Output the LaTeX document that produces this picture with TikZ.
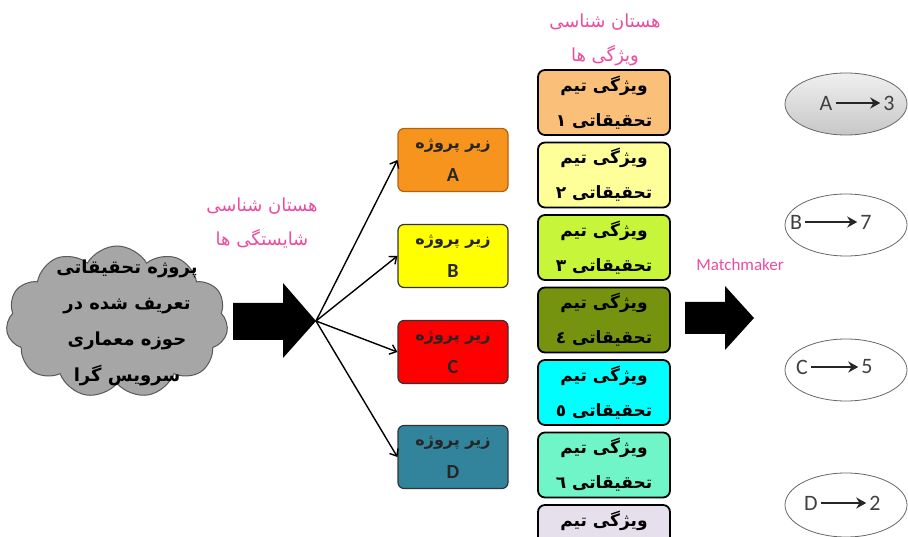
\documentclass[tikz,border=0pt]{standalone}
\usepackage{fontspec}
\setmainfont{DejaVu Sans}
\newfontfamily\fa[Script=Arabic]{DejaVu Sans}
\newfontfamily\calfont{Carlito}
\TeXXeTstate=1
\usetikzlibrary{shapes.symbols,shapes.geometric,arrows.meta}
\newcommand{\myrl}[1]{\beginR#1\endR}
\newcommand{\lat}[1]{{\calfont\bfseries\fontsize{20}{22}\selectfont #1}}
\definecolor{pinkt}{HTML}{EC4C9E}
\definecolor{cloudgray}{HTML}{A6A6A6}
\definecolor{cloudedge}{HTML}{595959}
\definecolor{subA}{HTML}{F7941D}
\definecolor{subAedge}{HTML}{B0640E}
\definecolor{subB}{HTML}{FFFF00}
\definecolor{subC}{HTML}{FF0000}
\definecolor{subD}{HTML}{31849B}
\definecolor{f1}{HTML}{FAC07A}
\definecolor{f2}{HTML}{FFFF99}
\definecolor{f3}{HTML}{C6F53A}
\definecolor{f4}{HTML}{76930F}
\definecolor{f5}{HTML}{00FFFF}
\definecolor{f6}{HTML}{6FF5C8}
\definecolor{f7}{HTML}{E6E0EC}
\definecolor{elltext}{HTML}{404040}
\tikzset{
  subbox/.style={draw=black!80, line width=1.2pt, rounded corners=6pt,
    minimum width=110pt, minimum height=63pt, align=center, inner sep=0pt,
    font=\fa\bfseries\fontsize{16}{33}\selectfont, text=black!85},
  featbox/.style={draw=black, line width=1.8pt, rounded corners=7pt,
    minimum width=132pt, minimum height=65pt, align=center, inner sep=0pt,
    font=\fa\bfseries\fontsize{17}{35}\selectfont},
  pinklabel/.style={text=pinkt, align=center, font=\fa\fontsize{18}{34}\selectfont},
  thinarrow/.style={-{Straight Barb[length=6pt,width=10pt]}, line width=1.4pt, black},
  bigarrow/.style={fill=black},
  ell/.style={ellipse, draw=black!60, line width=0.8pt, minimum width=122pt, minimum height=62pt},
  eltxt/.style={text=elltext, font=\calfont\fontsize{22}{24}\selectfont, inner sep=3pt},
  earrow/.style={-{Stealth[length=10pt,width=11pt]}, line width=2.6pt, black!85},
}
\begin{document}
\begin{tikzpicture}[x=1pt,y=-1pt]
\useasboundingbox (0,0) rectangle (908,537);
\clip (0,0) rectangle (908,537);

% cloud
\node[cloud, cloud puffs=11, cloud puff arc=120, aspect=1.4, minimum width=222pt, minimum height=152pt,
  fill=cloudgray, draw=cloudedge, line width=1pt] (cloud) at (117,322) {};
\node[align=center, font=\fa\bfseries\fontsize{18}{36}\selectfont] (cloudtxt) at (127,323)
  {\myrl{پروژه تحقیقاتی}\\\myrl{تعریف شده در}\\\myrl{حوزه معماری}\\\myrl{سرویس گرا}};

% big arrow 1
\fill[bigarrow] (233,303) -- (283,303) -- (283,283) -- (316,321) -- (283,358) -- (283,340) -- (233,340) -- cycle;
\coordinate (hub) at (316,321);

% pink label 1
\node[pinklabel] (lab1) at (262,223) {\myrl{هستان شناسی}\\\myrl{شایستگی ها}};

% sub-project boxes
\node[subbox, fill=subA, draw=subAedge] (A) at (453,160) {\myrl{زیر پروژه}\\\lat{A}};
\node[subbox, fill=subB] (B) at (453,256) {\myrl{زیر پروژه}\\\lat{B}};
\node[subbox, fill=subC] (C) at (453,352) {\myrl{زیر پروژه}\\\lat{C}};
\node[subbox, fill=subD] (D) at (453,457) {\myrl{زیر پروژه}\\\lat{D}};

\draw[thinarrow] (hub) -- (A.west);
\draw[thinarrow] (hub) -- (B.west);
\draw[thinarrow] (hub) -- (C.west);
\draw[thinarrow] (hub) -- (D.west);

% pink label 2
\node[pinklabel] (lab2) at (605,40) {\myrl{هستان شناسی}\\\myrl{ویژگی ها}};

% feature boxes
\node[featbox, fill=f1] (F1) at (604,102.5) {\myrl{ویژگی تیم}\\\myrl{تحقیقاتی ١}};
\node[featbox, fill=f2] (F2) at (604,175) {\myrl{ویژگی تیم}\\\myrl{تحقیقاتی ٢}};
\node[featbox, fill=f3] (F3) at (604,247.5) {\myrl{ویژگی تیم}\\\myrl{تحقیقاتی ٣}};
\node[featbox, fill=f4] (F4) at (604,320) {\myrl{ویژگی تیم}\\\myrl{تحقیقاتی ٤}};
\node[featbox, fill=f5] (F5) at (604,392.5) {\myrl{ویژگی تیم}\\\myrl{تحقیقاتی ٥}};
\node[featbox, fill=f6] (F6) at (604,465) {\myrl{ویژگی تیم}\\\myrl{تحقیقاتی ٦}};
\node[featbox, fill=f7] (F7) at (604,537.5) {};
\node[font=\fa\bfseries\fontsize{17}{35}\selectfont] (F7t) at (604,521) {\myrl{ویژگی تیم}};

% matchmaker
\node[text=pinkt, font=\calfont\fontsize{17}{19}\selectfont] (mm) at (740,265) {Matchmaker};
\fill[bigarrow] (685,302) -- (725,302) -- (725,286) -- (754,318) -- (725,350) -- (725,334) -- (685,334) -- cycle;

% result ellipses
\node[ell, top color=black!6, bottom color=black!22] (EA) at (846,104) {};
\node[ell] (EB) at (846,225) {};
\node[ell] (EC) at (846,370) {};
\node[ell, minimum height=64pt] (ED) at (846,505) {};

\node[eltxt] (la) at (826,103) {A};
\node[eltxt] (na) at (889,103) {3};
\draw[earrow] (la) -- (na);
\node[eltxt] (lb) at (796,222) {B};
\node[eltxt] (nb) at (866,222) {7};
\draw[earrow] (lb) -- (nb);
\node[eltxt] (lc) at (802,367) {C};
\node[eltxt] (nc) at (867,367) {5};
\draw[earrow] (lc) -- (nc);
\node[eltxt] (ld) at (811,503) {D};
\node[eltxt] (nd) at (875,503) {2};
\draw[earrow] (ld) -- (nd);
\end{tikzpicture}
\end{document}
